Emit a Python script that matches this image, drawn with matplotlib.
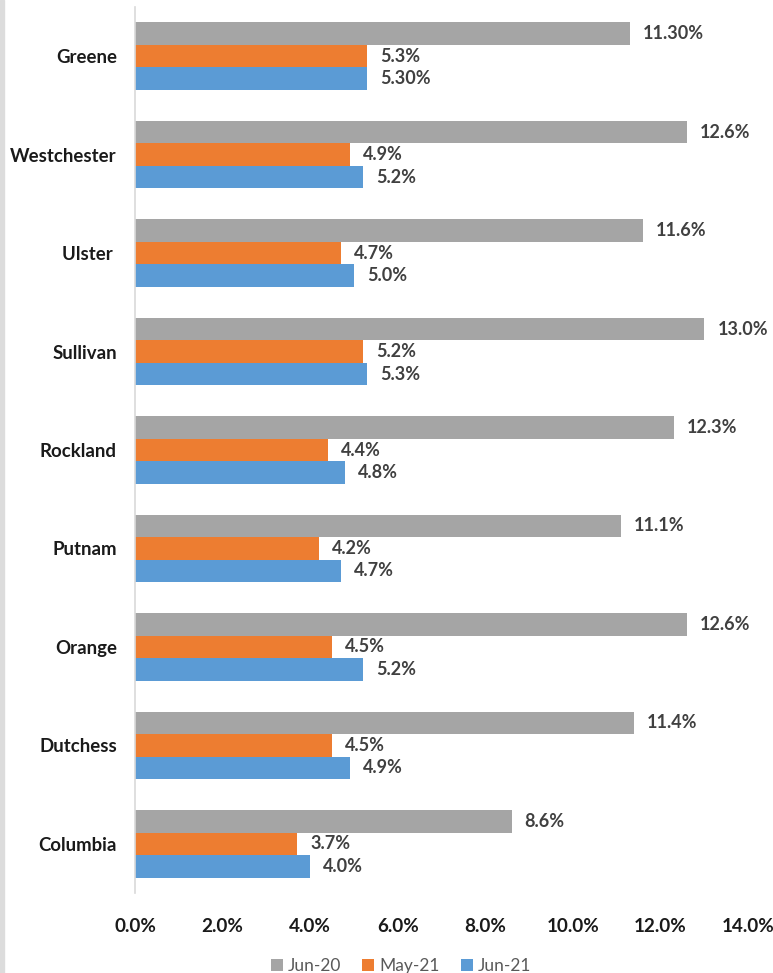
import numpy as np
import matplotlib.pyplot as plt
from matplotlib.patches import Rectangle

counties = ["Greene", "Westchester", "Ulster ", "Sullivan", "Rockland",
            "Putnam", "Orange", "Dutchess", "Columbia"]
jun20 = [11.3, 12.6, 11.6, 13.0, 12.3, 11.1, 12.6, 11.4, 8.6]
may21 = [5.3, 4.9, 4.7, 5.2, 4.4, 4.2, 4.5, 4.5, 3.7]
jun21 = [5.3, 5.2, 5.0, 5.3, 4.8, 4.7, 5.2, 4.9, 4.0]
jun20_lbl = ["11.30%", "12.6%", "11.6%", "13.0%", "12.3%", "11.1%", "12.6%", "11.4%", "8.6%"]
may21_lbl = ["5.3%", "4.9%", "4.7%", "5.2%", "4.4%", "4.2%", "4.5%", "4.5%", "3.7%"]
jun21_lbl = ["5.30%", "5.2%", "5.0%", "5.3%", "4.8%", "4.7%", "5.2%", "4.9%", "4.0%"]
series = ["Jun-20", "May-21", "Jun-21"]
colors = ["#A5A5A5", "#ED7D31", "#5B9BD5"]

plt.rcParams["font.family"] = ["Lato", "DejaVu Sans"]

fig = plt.figure(figsize=(7.73, 9.73), dpi=100)
fig.patches.append(Rectangle((0, 0), 4 / 773, 1, transform=fig.transFigure,
                             color="#dcdcdc", zorder=0))
ax = fig.add_axes([135 / 773, 80 / 973, 613 / 773, 886 / 973])

y = np.arange(len(counties))
h = 0.229
for i, (vals, lbls) in enumerate([(jun20, jun20_lbl), (may21, may21_lbl), (jun21, jun21_lbl)]):
    pos = y + (i - 1) * h
    ax.barh(pos, vals, height=h, color=colors[i], label=series[i])
    for p, v, t in zip(pos, vals, lbls):
        ax.text(v + 0.3, p, t, va="center", ha="left", fontsize=13,
                fontweight="bold", color="#404040")

ax.set_ylim(len(counties) - 0.5, -0.5)
ax.set_xlim(0, 14)
ax.set_yticks(y)
ax.set_yticklabels(counties, fontsize=13.4, fontweight="bold", color="#1a1a1a")
ax.set_xticks(np.arange(0, 15, 2))
ax.set_xticklabels([f"{v:.1f}%" for v in np.arange(0, 15, 2)], fontsize=13.6,
                   fontweight="bold", color="#1a1a1a")
ax.tick_params(axis="both", length=0)
ax.tick_params(axis="x", pad=18)
ax.tick_params(axis="y", pad=13)
for s in ["top", "right", "bottom"]:
    ax.spines[s].set_visible(False)
ax.spines["left"].set_color("#d9d9d9")
ax.spines["left"].set_linewidth(1.2)

handles, labels = ax.get_legend_handles_labels()
leg = fig.legend(handles, labels, loc="center", bbox_to_anchor=(401 / 773, 7 / 973),
                 ncol=3, frameon=False, fontsize=12.5, handlelength=0.7, handleheight=0.7,
                 handletextpad=0.3, columnspacing=1.2)
for t in leg.get_texts():
    t.set_color("#595959")

fig.savefig("out.png", dpi=100)
